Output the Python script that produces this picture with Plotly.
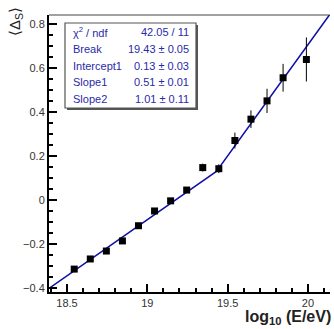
import plotly.graph_objects as go
import numpy as np

# data
log_e = [18.545, 18.645, 18.745, 18.845, 18.945, 19.045, 19.145, 19.245, 19.345, 19.445,
         19.545, 19.645, 19.745, 19.845, 19.99]
delta_s = [-0.314, -0.268, -0.232, -0.186, -0.117, -0.050, -0.004, 0.045, 0.147, 0.142,
           0.270, 0.367, 0.450, 0.555, 0.638]
delta_err = [0.008, 0.008, 0.008, 0.008, 0.008, 0.008, 0.010, 0.012, 0.018, 0.020,
             0.036, 0.040, 0.055, 0.063, 0.100]

fit_break = 19.43
fit_int = 0.13
fit_s1 = 0.51
fit_s2 = 1.01
x_range = [18.388, 20.137]
y_range = [-0.418, 0.84]

stat_labels = ["χ<sup>2</sup> / ndf", "Break", "Intercept1", "Slope1", "Slope2"]
stat_values = ["42.05 / 11", "19.43 ± 0.05", "0.13 ± 0.03", "0.51 ± 0.01", "1.01 ± 0.11"]

fx = [x_range[0], fit_break, x_range[1]]
fy = [fit_int + fit_s1 * (x_range[0] - fit_break), fit_int,
      fit_int + fit_s2 * (x_range[1] - fit_break)]

W, H = 334, 329
L, R, T, B = 49, 4, 15, 37
pw, ph = W - L - R, H - T - B

def px(x):
    return (x - L) / pw

def py(y):
    return (H - B - y) / ph

fig = go.Figure()
fig.add_trace(go.Scatter(x=fx, y=fy, mode="lines",
                         line=dict(color="#1010a8", width=1.5), hoverinfo="skip"))
fig.add_trace(go.Scatter(x=log_e, y=delta_s, mode="markers",
                         marker=dict(symbol="square", size=7, color="black"),
                         error_y=dict(type="data", array=delta_err, color="black",
                                      thickness=1, width=0)))

font = "Liberation Sans, Arial, sans-serif"
fig.update_layout(
    width=W, height=H, margin=dict(l=L, r=R, t=T, b=B),
    paper_bgcolor="white", plot_bgcolor="white", showlegend=False,
    font=dict(family=font, size=11, color="#222"),
    xaxis=dict(range=x_range, showgrid=False, zeroline=False, showline=True,
               linecolor="black", linewidth=2, ticks="inside", ticklen=8,
               tickwidth=1.5, tickcolor="black", dtick=0.5, tick0=18.5,
               tickfont=dict(size=11, color="#333"),
               minor=dict(ticks="inside", ticklen=4, dtick=0.1, tickcolor="black")),
    yaxis=dict(range=y_range, showgrid=False, zeroline=False, showline=True,
               linecolor="black", linewidth=2, ticks="inside", ticklen=8,
               tickwidth=1.5, tickcolor="black", dtick=0.2, tick0=0,
               tickfont=dict(size=11, color="#333"),
               minor=dict(ticks="inside", ticklen=4, dtick=0.05, tickcolor="black")),
)

# top frame line
fig.add_shape(type="line", xref="paper", yref="paper", x0=0, x1=1, y0=1, y1=1,
              line=dict(color="#444", width=1))

# stat box with shadow
bx0, bx1, by0, by1 = 65, 196, 23, 108
fig.add_shape(type="rect", xref="paper", yref="paper",
              x0=px(bx0 + 2), x1=px(bx1 + 2), y0=py(by1 + 2), y1=py(by0 + 2),
              line=dict(width=0), fillcolor="#555")
fig.add_shape(type="rect", xref="paper", yref="paper",
              x0=px(bx0), x1=px(bx1), y0=py(by1), y1=py(by0),
              line=dict(color="#555", width=1.2), fillcolor="white")

row_y = [32, 49, 66, 82, 99]
for lab, val, ry in zip(stat_labels, stat_values, row_y):
    fig.add_annotation(xref="paper", yref="paper", x=px(bx0 + 6), y=py(ry),
                       text=lab, showarrow=False, xanchor="left", yanchor="middle",
                       font=dict(family=font, size=11, color="#2a2aa8"))
    fig.add_annotation(xref="paper", yref="paper", x=px(bx1 - 5), y=py(ry),
                       text=val, showarrow=False, xanchor="right", yanchor="middle",
                       font=dict(family=font, size=11, color="#2a2aa8"))

# axis titles
fig.add_annotation(xref="paper", yref="paper", x=px(333), y=py(317),
                   text="<b>log<sub>10</sub> (E/eV)</b>", showarrow=False,
                   xanchor="right", yanchor="middle",
                   font=dict(family=font, size=16, color="#222"))
fig.add_annotation(xref="paper", yref="paper", x=px(15), y=py(22),
                   text="⟨Δ<sub>S</sub>⟩", showarrow=False, textangle=-90,
                   xanchor="center", yanchor="middle",
                   font=dict(family=font, size=15, color="#222"))

fig.write_html("out.html")
